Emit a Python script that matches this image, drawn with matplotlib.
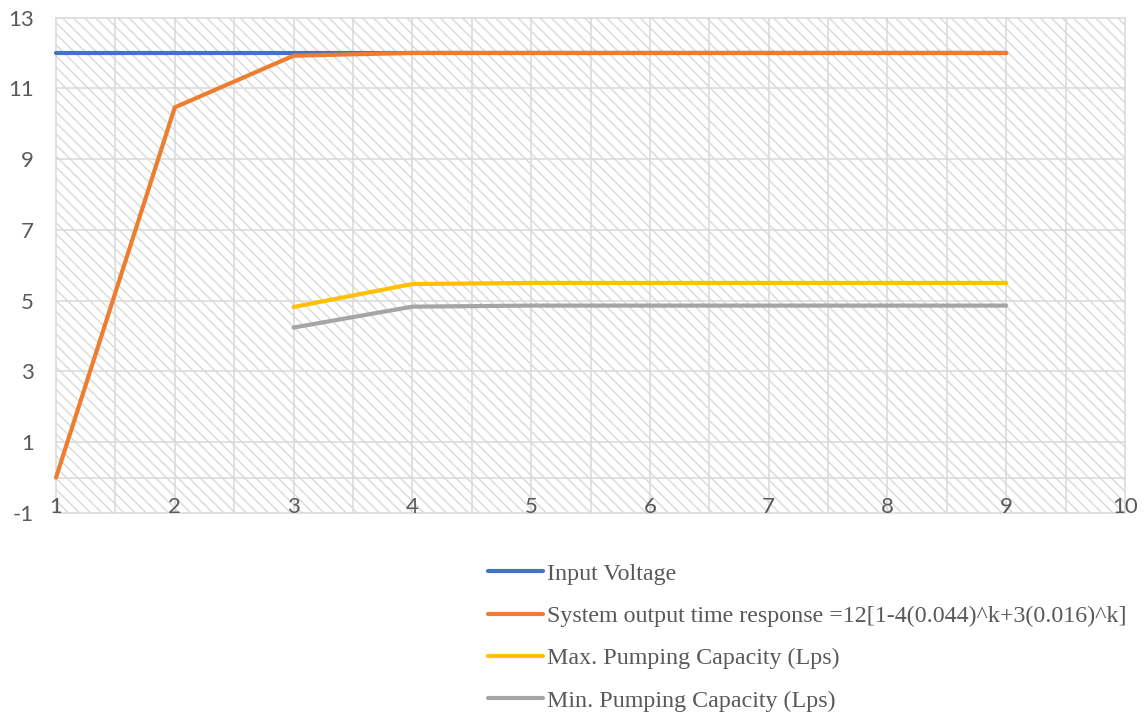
import matplotlib
matplotlib.use("Agg")
import matplotlib.pyplot as plt
from matplotlib.patches import Rectangle

# Step index k (x axis)
steps = [1, 2, 3, 4, 5, 6, 7, 8, 9]
input_voltage = [12, 12, 12, 12, 12, 12, 12, 12, 12]
system_response = [0.0, 10.46, 11.92, 12.0, 12.0, 12.0, 12.0, 12.0, 12.0]

pump_steps = [3, 4, 5, 6, 7, 8, 9]
max_pumping = [4.82, 5.47, 5.5, 5.5, 5.5, 5.5, 5.5]
min_pumping = [4.24, 4.83, 4.86, 4.86, 4.86, 4.86, 4.86]

series_labels = [
    "Input Voltage",
    "System output time response =12[1-4(0.044)^k+3(0.016)^k]",
    "Max. Pumping Capacity (Lps)",
    "Min. Pumping Capacity (Lps)",
]
series_colors = ["#4472C4", "#ED7D31", "#FFC000", "#A5A5A5"]

x_ticks = list(range(1, 11))
y_ticks = list(range(-1, 14, 2))

text_color = "#595959"
grid_color = "#d9d9d9"

plt.rcParams["hatch.linewidth"] = 1.1

fig = plt.figure(figsize=(11.44, 7.15), dpi=100)
ax = fig.add_axes([56 / 1144, 1 - 513 / 715, (1125 - 56) / 1144, (513 - 17.5) / 715])

ax.set_xlim(1, 10)
ax.set_ylim(-1, 13)

# hatched plot-area fill
ax.add_patch(Rectangle((0, 0), 1, 1, transform=ax.transAxes, facecolor="white",
                       edgecolor="#dcdcdc", hatch="\\\\\\", linewidth=0, zorder=0))

# gridlines: every half step horizontally, every other unit vertically
for xv in [1 + 0.5 * i for i in range(19)]:
    ax.axvline(xv, color=grid_color, lw=1.1, zorder=1, clip_on=False)
for yv in y_ticks:
    ax.axhline(yv, color=grid_color, lw=1.1, zorder=1, clip_on=False)
ax.axhline(0, color=grid_color, lw=1.1, zorder=1)

for s in ax.spines.values():
    s.set_visible(False)

lw = 3.0
ax.plot(steps, input_voltage, color=series_colors[0], lw=lw, label=series_labels[0],
        solid_capstyle="round", solid_joinstyle="round", zorder=3, clip_on=False)
ax.plot(steps, system_response, color=series_colors[1], lw=lw, label=series_labels[1],
        solid_capstyle="round", solid_joinstyle="round", zorder=4, clip_on=False)
ax.plot(pump_steps, max_pumping, color=series_colors[2], lw=lw, label=series_labels[2],
        solid_capstyle="round", solid_joinstyle="round", zorder=3)
ax.plot(pump_steps, min_pumping, color=series_colors[3], lw=lw, label=series_labels[3],
        solid_capstyle="round", solid_joinstyle="round", zorder=3)

tick_font = {"family": "Lato", "size": 16, "color": text_color}
ax.set_yticks(y_ticks)
ax.set_yticklabels([str(v) for v in y_ticks], fontdict=tick_font)
ax.set_xticks(x_ticks)
ax.set_xticklabels([str(v) for v in x_ticks], fontdict=tick_font)
ax.tick_params(axis="y", length=0, pad=16)
ax.tick_params(axis="x", length=0, pad=0)
for lab in ax.get_xticklabels():
    lab.set_verticalalignment("baseline")

leg = ax.legend(loc="upper left", bbox_to_anchor=(488 / 1144, 1 - 563 / 715),
                bbox_transform=fig.transFigure, frameon=False, borderpad=0,
                borderaxespad=0, handlelength=2.27, handletextpad=0.2,
                labelspacing=0.85, prop={"family": "Liberation Serif", "size": 17.3})
for t in leg.get_texts():
    t.set_color(text_color)

fig.savefig("out.png", dpi=100)
